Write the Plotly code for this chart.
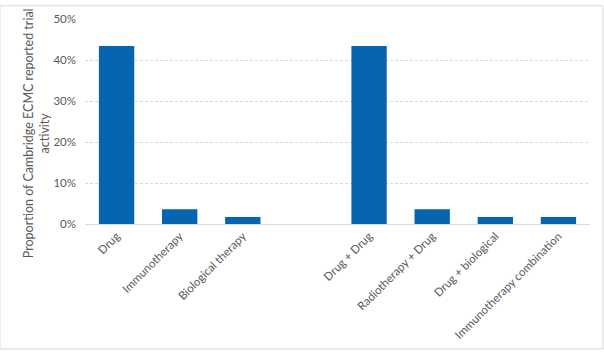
import plotly.graph_objects as go

categories = ["Drug", "Immunotherapy", "Biological therapy", " ",
              "Drug + Drug", "Radiotherapy + Drug", "Drug + biological",
              "Immunotherapy combination"]
values = [0.434, 0.036, 0.017, None, 0.434, 0.036, 0.017, 0.017]
y_ticks = [0, 0.1, 0.2, 0.3, 0.4, 0.5]
y_ticklabels = ["0%", "10%", "20%", "30%", "40%", "50%"]
y_title = "Proportion of Cambridge ECMC reported trial<br>activity"

FONT = "Lato, 'Open Sans', sans-serif"
GRAY = "#595959"

fig = go.Figure(go.Bar(x=categories, y=values, marker_color="#0565B0",
                       marker_line_width=0))

fig.update_layout(
    width=604, height=353,
    margin=dict(l=85, r=14, t=14, b=129),
    paper_bgcolor="white", plot_bgcolor="white",
    bargap=0.44, showlegend=False,
    font=dict(family=FONT, color=GRAY, size=11),
    shapes=[dict(type="rect", xref="paper", yref="paper",
                 x0=-85/505, x1=1 + 13/505, y0=-128/210, y1=1 + 13.5/210,
                 line=dict(color="#D9D9D9", width=1), fillcolor="rgba(0,0,0,0)",
                 layer="below")],
    annotations=[dict(text=y_title, textangle=-90, showarrow=False,
                      xref="paper", yref="paper", x=-49/505, y=(224-131)/210,
                      xanchor="center", yanchor="middle",
                      font=dict(size=12.5, color=GRAY, family=FONT))],
)
fig.update_xaxes(
    type="category", categoryorder="array", categoryarray=categories,
    tickangle=-45, showgrid=False, showline=True, linecolor="#D9D9D9",
    linewidth=1, ticks="", tickfont=dict(size=11.5, color=GRAY),
)
fig.update_yaxes(
    range=[0, 0.5], tickvals=y_ticks, ticktext=y_ticklabels,
    showgrid=True, gridcolor="#D9D9D9", griddash="3px,2px", gridwidth=1,
    zeroline=False, showline=False, ticks="",
    tickfont=dict(size=11.5, color=GRAY), ticklabelstandoff=8,
)

fig.write_html("out.html")
